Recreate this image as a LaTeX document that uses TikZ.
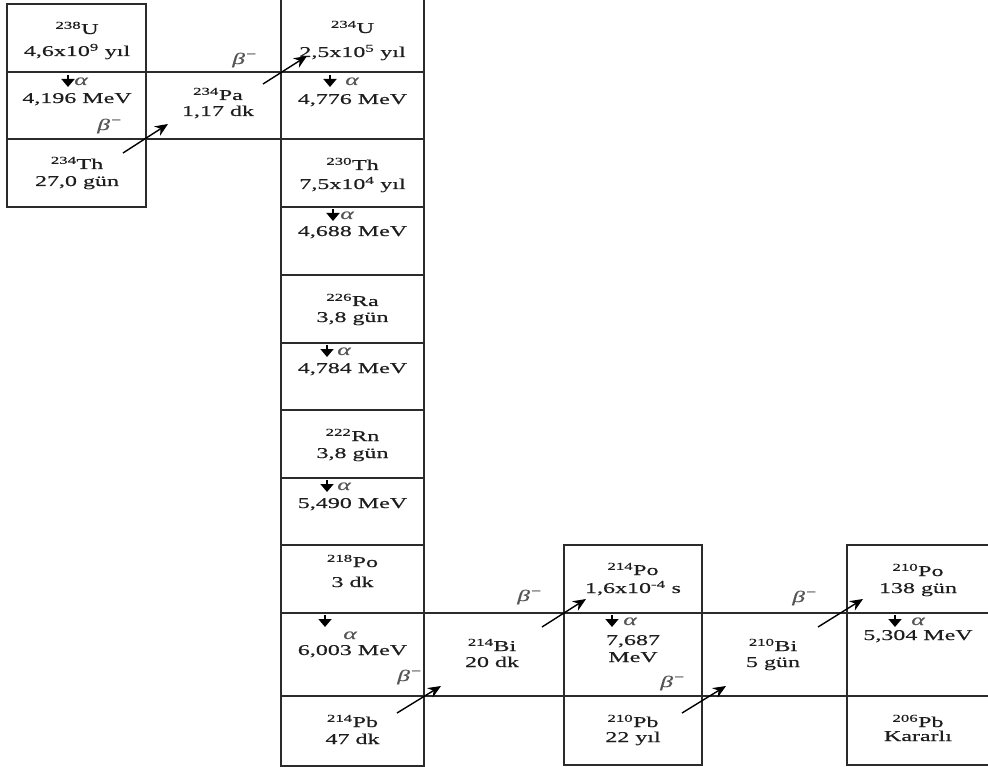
\documentclass[tikz,border=0pt]{standalone}
\usepackage{fontspec}
\setmainfont{Liberation Serif}[FakeStretch=1.6,FakeBold=0.4]
\usetikzlibrary{arrows.meta}
\definecolor{linec}{HTML}{2B2B2B}
\definecolor{txtc}{HTML}{1E1E1E}
\definecolor{grkc}{HTML}{555555}
\newcommand{\betam}{\textit{β}\textsuperscript{−}}
\newcommand{\nuc}[2]{\textsuperscript{#1}#2}
\begin{document}
\begin{tikzpicture}[x=1pt,y=-1pt,
  frame/.style={draw=linec,line width=1.3pt},
  txt/.style={anchor=base,inner sep=0pt,text=txtc,font=\fontsize{15}{18}\selectfont},
  grk/.style={anchor=base,inner sep=0pt,text=grkc,font=\fontsize{16}{18}\selectfont\itshape},
  decay/.style={draw=black,line width=1.4pt,-{Stealth[length=13pt,width=11pt]}},
  adown/.style={draw=black,line width=1.8pt,-{Triangle[length=8pt,width=13pt]}}]
\useasboundingbox (0,0) rectangle (988,767);
% ---------- frames ----------
\draw[frame] (7,4) rectangle (146,207);
\draw[frame] (7,72) -- (424,72);
\draw[frame] (7,139) -- (424,139);
\draw[frame] (281,0) -- (281,766) -- (424,766) -- (424,0);
\foreach \yy in {207,275,343,410,478,545} \draw[frame] (281,\yy) -- (424,\yy);
\draw[frame] (281,613) -- (988,613);
\draw[frame] (281,696) -- (988,696);
\draw[frame] (564,545) rectangle (702,765);
\draw[frame] (988,545) -- (847,545) -- (847,765) -- (988,765);
% ---------- left column ----------
\node[txt] (u238) at (77,34) {\nuc{238}{U}};
\node[txt] (u238t) at (77,56) {4,6x10\textsuperscript{9} yıl};
\draw[adown] (68,75) -- (68,87);
\node[grk] (ua1g) at (81,85) {α};
\node[txt] (ua1e) at (77,103) {4,196 MeV};
\node[grk] (b1) at (110,130) {\betam};
\node[txt] (th234) at (77,169) {\nuc{234}{Th}};
\node[txt] (th234t) at (77,186) {27,0 gün};
% ---------- Pa ----------
\node[txt] (pa234) at (218,100) {\nuc{234}{Pa}};
\node[txt] (pa234t) at (218,116) {1,17 dk};
\node[grk] (b2) at (245,64) {\betam};
% ---------- middle column ----------
\node[txt] (u234) at (352.5,33) {\nuc{234}{U}};
\node[txt] (u234t) at (352.5,57) {2,5x10\textsuperscript{5} yıl};
\draw[adown] (330,75) -- (330,87);
\node[grk] (ua2g) at (352,85) {α};
\node[txt] (ua2e) at (352.5,104) {4,776 MeV};
\node[txt] (th230) at (352.5,170) {\nuc{230}{Th}};
\node[txt] (th230t) at (352.5,189) {7,5x10\textsuperscript{4} yıl};
\draw[adown] (333,209) -- (333,221);
\node[grk] (ta1g) at (347,219) {α};
\node[txt] (ta1e) at (352.5,236) {4,688 MeV};
\node[txt] (ra226) at (352.5,306) {\nuc{226}{Ra}};
\node[txt] (ra226t) at (352.5,322) {3,8 gün};
\draw[adown] (327,345) -- (327,357);
\node[grk] (ra1g) at (344,355) {α};
\node[txt] (ra1e) at (352.5,373) {4,784 MeV};
\node[txt] (rn222) at (352.5,441) {\nuc{222}{Rn}};
\node[txt] (rn222t) at (352.5,458) {3,8 gün};
\draw[adown] (327,480) -- (327,492);
\node[grk] (rn1g) at (344,490) {α};
\node[txt] (rn1e) at (352.5,508) {5,490 MeV};
\node[txt] (po218) at (352.5,567) {\nuc{218}{Po}};
\node[txt] (po218t) at (352.5,587) {3 dk};
\draw[adown] (325,615) -- (325,627);
\node[grk] (po1g) at (350,639) {α};
\node[txt] (po1e) at (352.5,655) {6,003 MeV};
\node[grk] (b3) at (410,681) {\betam};
\node[txt] (pb214) at (352.5,727) {\nuc{214}{Pb}};
\node[txt] (pb214t) at (352.5,744) {47 dk};
% ---------- Bi214 ----------
\node[txt] (bi214) at (492,651) {\nuc{214}{Bi}};
\node[txt] (bi214t) at (492,667) {20 dk};
\node[grk] (b4) at (530,601) {\betam};
% ---------- Po214 column ----------
\node[txt] (po214) at (633,575) {\nuc{214}{Po}};
\node[txt] (po214t) at (633,593) {1,6x10\textsuperscript{-4} s};
\draw[adown] (612,615) -- (612,627);
\node[grk] (po2g) at (630,625) {α};
\node[txt] (po2e) at (633,645) {7,687};
\node[txt] (po2m) at (633,662) {MeV};
\node[grk] (b5) at (673,687) {\betam};
\node[txt] (pb210) at (633,727) {\nuc{210}{Pb}};
\node[txt] (pb210t) at (633,742) {22 yıl};
% ---------- Bi210 ----------
\node[txt] (bi210) at (773,651) {\nuc{210}{Bi}};
\node[txt] (bi210t) at (773,667) {5 gün};
\node[grk] (b6) at (805,602) {\betam};
% ---------- Po210 column ----------
\node[txt] (po210) at (918,576) {\nuc{210}{Po}};
\node[txt] (po210t) at (918,593) {138 gün};
\draw[adown] (895,615) -- (895,627);
\node[grk] (po3g) at (918,625) {α};
\node[txt] (po3e) at (918,640) {5,304 MeV};
\node[txt] (pb206) at (918,727) {\nuc{206}{Pb}};
\node[txt] (pb206t) at (918,741) {Kararlı};
% ---------- beta arrows ----------
\coordinate (a1s) at (123,153); \coordinate (a1e) at (168,124);
\coordinate (a2s) at (263,84);  \coordinate (a2e) at (307,56);
\coordinate (a3s) at (397,713); \coordinate (a3e) at (441,686);
\coordinate (a4s) at (542,627); \coordinate (a4e) at (586,599);
\coordinate (a5s) at (682,713); \coordinate (a5e) at (726,686);
\coordinate (a6s) at (818,627); \coordinate (a6e) at (863,599);
\draw[decay] (a1s) -- (a1e);
\draw[decay] (a2s) -- (a2e);
\draw[decay] (a3s) -- (a3e);
\draw[decay] (a4s) -- (a4e);
\draw[decay] (a5s) -- (a5e);
\draw[decay] (a6s) -- (a6e);
\end{tikzpicture}
\end{document}
